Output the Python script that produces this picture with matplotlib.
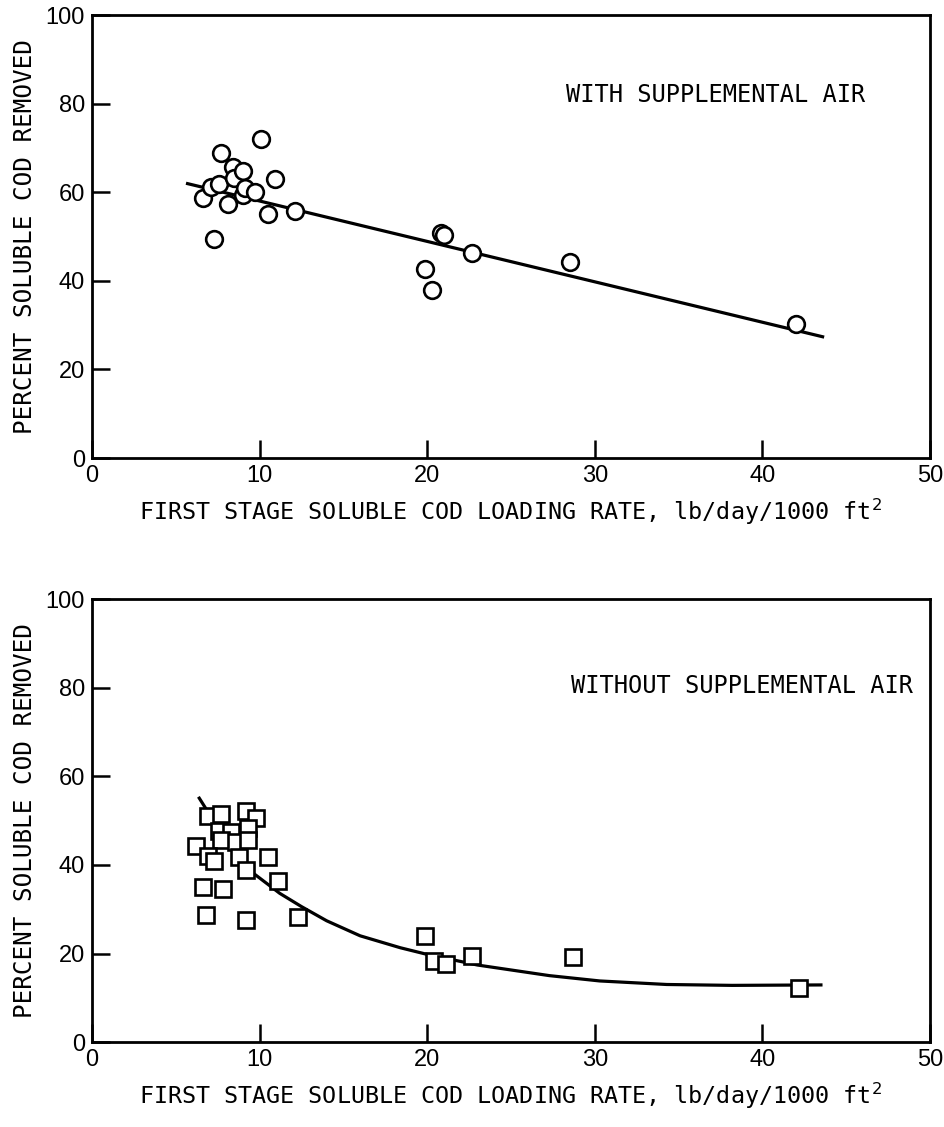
import matplotlib
matplotlib.use("Agg")
import matplotlib.pyplot as plt

# With supplemental air (circles)
air_x = [6.6, 7.1, 7.3, 7.6, 7.7, 8.1, 8.4, 8.5, 9.0, 9.0, 9.1, 9.7, 10.1, 10.5, 10.9, 12.1,
         19.9, 20.3, 20.8, 21.0, 22.65, 28.5, 42.0]
air_y = [58.8, 61.3, 49.5, 62.0, 68.9, 57.5, 65.8, 63.3, 64.8, 59.4, 60.9, 60.0, 72.1, 55.1, 63.0, 55.7,
         42.8, 38.0, 50.8, 50.3, 46.3, 44.2, 30.2]
air_fit_x = [5.7, 43.6]
air_fit_y = [62.0, 27.4]

# Without supplemental air (squares)
noair_x = [6.9, 7.7, 9.2, 9.8, 7.6, 8.3, 9.3, 7.7, 8.6, 9.3, 6.2, 6.9, 7.3, 8.8, 10.5, 9.2, 11.1,
           6.6, 7.8, 6.8, 9.2, 12.3, 19.9, 20.4, 21.1, 22.7, 28.7, 42.2]
noair_y = [51.0, 51.6, 52.1, 50.6, 47.6, 47.4, 48.4, 45.7, 45.3, 45.7, 44.2, 42.0, 40.8, 41.9, 41.9,
           38.9, 36.3, 35.1, 34.6, 28.7, 27.6, 28.3, 24.0, 18.2, 17.6, 19.5, 19.2, 12.1]
noair_fit_x = [6.4, 6.9, 8.0, 9.5, 11.2, 12.5, 14.0, 16.0, 18.4, 20.0, 23.0, 27.3, 30.3, 34.3, 38.2, 43.5]
noair_fit_y = [55.1, 52.1, 45.0, 38.5, 33.6, 30.6, 27.4, 24.0, 21.3, 19.8, 17.4, 15.0, 13.8, 13.0, 12.8, 12.9]

xticks = [0, 10, 20, 30, 40, 50]
yticks = [0, 20, 40, 60, 80, 100]

mono = ["DejaVu Sans Mono"]
narrow = ["Liberation Sans Narrow", "Liberation Sans", "DejaVu Sans"]

fig = plt.figure(figsize=(9.44, 11.27), dpi=100)
ax1 = fig.add_axes([0.0975, 0.5936, 0.8875, 0.3927])
ax2 = fig.add_axes([0.0975, 0.0754, 0.8875, 0.3927])

xlabel = "FIRST STAGE SOLUBLE COD LOADING RATE, lb/day/1000 ft$^{2}$"

for ax in (ax1, ax2):
    ax.set_xlim(0, 50)
    ax.set_ylim(0, 100)
    ax.set_xticks(xticks)
    ax.set_yticks(yticks)
    ax.set_xticklabels([str(t) for t in xticks], family=narrow, fontsize=17)
    ax.set_yticklabels([str(t) for t in yticks], family=narrow, fontsize=17)
    ax.tick_params(direction="in", length=13, width=1.8, pad=5)
    for s in ax.spines.values():
        s.set_linewidth(2.0)
    ax.set_ylabel("PERCENT SOLUBLE COD REMOVED", family=mono, fontsize=17.5, labelpad=6)
    ax.set_xlabel(xlabel, family=mono, fontsize=16.8, labelpad=7)

ax1.plot(air_fit_x, air_fit_y, color="black", lw=2.3, zorder=2)
ax1.plot(air_x, air_y, "o", ms=12, mfc="white", mec="black", mew=1.9, zorder=3)
ax1.text(28.3, 82, "WITH SUPPLEMENTAL AIR", family=mono, fontsize=17, va="center")

ax2.plot(noair_fit_x, noair_fit_y, color="black", lw=2.3, zorder=2)
ax2.plot(noair_x, noair_y, "s", ms=11.5, mfc="white", mec="black", mew=1.9, zorder=3)
ax2.text(28.6, 80.5, "WITHOUT SUPPLEMENTAL AIR", family=mono, fontsize=17, va="center")

fig.savefig("out.png", dpi=100)
